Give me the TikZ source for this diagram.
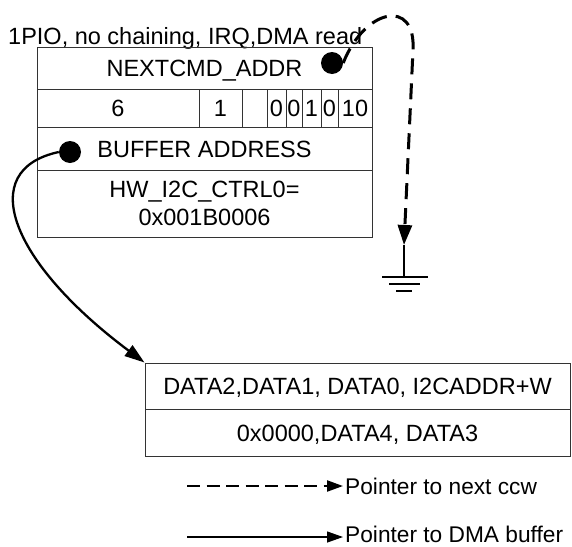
\documentclass[tikz,border=0pt]{standalone}
\usepackage{fontspec}
\setmainfont{Liberation Sans}
\usetikzlibrary{arrows.meta}
\begin{document}
\begin{tikzpicture}[x=1pt,y=-1pt,
  every node/.style={font=\fontsize{23.5}{28}\selectfont, text height=17pt, text depth=0pt},
  legtext/.style={font=\fontsize{22.7}{27}\selectfont, anchor=west, inner xsep=2pt, inner ysep=0pt},
  cell/.style={draw=black!80, line width=1pt, inner sep=0pt, minimum height=#1},
  cell/.default=40pt,
  dot/.style={circle, fill=black, inner sep=0pt, minimum size=22pt},
  dashcurve/.style={line width=3pt, dash pattern=on 16pt off 9pt, -{Triangle[length=20pt,width=14pt]}},
  solidcurve/.style={line width=2.3pt, -{Triangle[length=20pt,width=13pt]}},
  legdash/.style={line width=2.2pt, dash pattern=on 13pt off 6.5pt, -{Triangle[length=16pt,width=11pt]}},
  legsolid/.style={line width=1.3pt, -{Triangle[length=16pt,width=11pt]}},
  gnd/.style={line width=2.4pt}
]
\useasboundingbox (0,0) rectangle (572,546);
% title
\node[anchor=base west, inner sep=0pt] (title) at (8,44) {1PIO, no chaining, IRQ,DMA read};
% upper box
\node[cell=42pt, minimum width=335pt] (r1) at (204.5,68) {NEXTCMD\_ADDR};
\node[cell=38pt, minimum width=162pt] (c6) at (118,108) {6};
\node[cell=38pt, minimum width=43pt] (c1) at (220.5,108) {1};
\node[cell=38pt, minimum width=25pt] (cb) at (254.5,108) {};
\node[cell=38pt, minimum width=19pt] (z1) at (276.5,108) {0};
\node[cell=38pt, minimum width=16pt] (z2) at (294,108) {0};
\node[cell=38pt, minimum width=19pt] (o1) at (311.5,108) {1};
\node[cell=38pt, minimum width=17pt] (z3) at (329.5,108) {0};
\node[cell=38pt, minimum width=34pt] (ten) at (355,108) {10};
\node[cell=43pt, minimum width=335pt] (r3) at (204.5,148.5) {BUFFER ADDRESS};
\node[cell=67pt, minimum width=335pt] (r4) at (204.5,203.5) {};
\node[anchor=base] (r4a) at (204.5,197) {HW\_I2C\_CTRL0=};
\node[anchor=base] (r4b) at (204.5,225) {0x001B0006};
% dots
\node[dot] (d1) at (332,63) {};
\node[dot] (d2) at (70,152) {};
% lower box
\node[cell=46pt, minimum width=425pt] (b1) at (357.5,386) {DATA2,DATA1, DATA0, I2CADDR+W};
\node[cell=47pt, minimum width=425pt] (b2) at (357.5,432.5) {0x0000,DATA4, DATA3};
% dashed pointer to ground
\coordinate (gtop) at (404,245);
\coordinate (gbase) at (404,277);
\draw[dashcurve] (d1.east) .. controls (365,8) and (416,-2) .. (413,50) -- (gtop);
\draw[gnd] (gtop) -- (gbase);
\draw[gnd] (382,277) -- (428,277);
\draw[gnd] (389,284) -- (420,284);
\draw[gnd] (396,291) -- (412,291);
% solid pointer to buffer
\draw[solidcurve] (d2.west) .. controls (-25,170) and (10,262) .. (b1.north west);
% legend
\coordinate (l1) at (187,486);
\coordinate (l2) at (187,537);
\node[legtext] (t1) at (343,485.5) {Pointer to next ccw};
\node[legtext] (t2) at (343,533.5) {Pointer to DMA buffer};
\draw[legdash] (l1) -- (l1 -| t1.west);
\draw[legsolid] (l2) -- (l2 -| t2.west);
\end{tikzpicture}
\end{document}
